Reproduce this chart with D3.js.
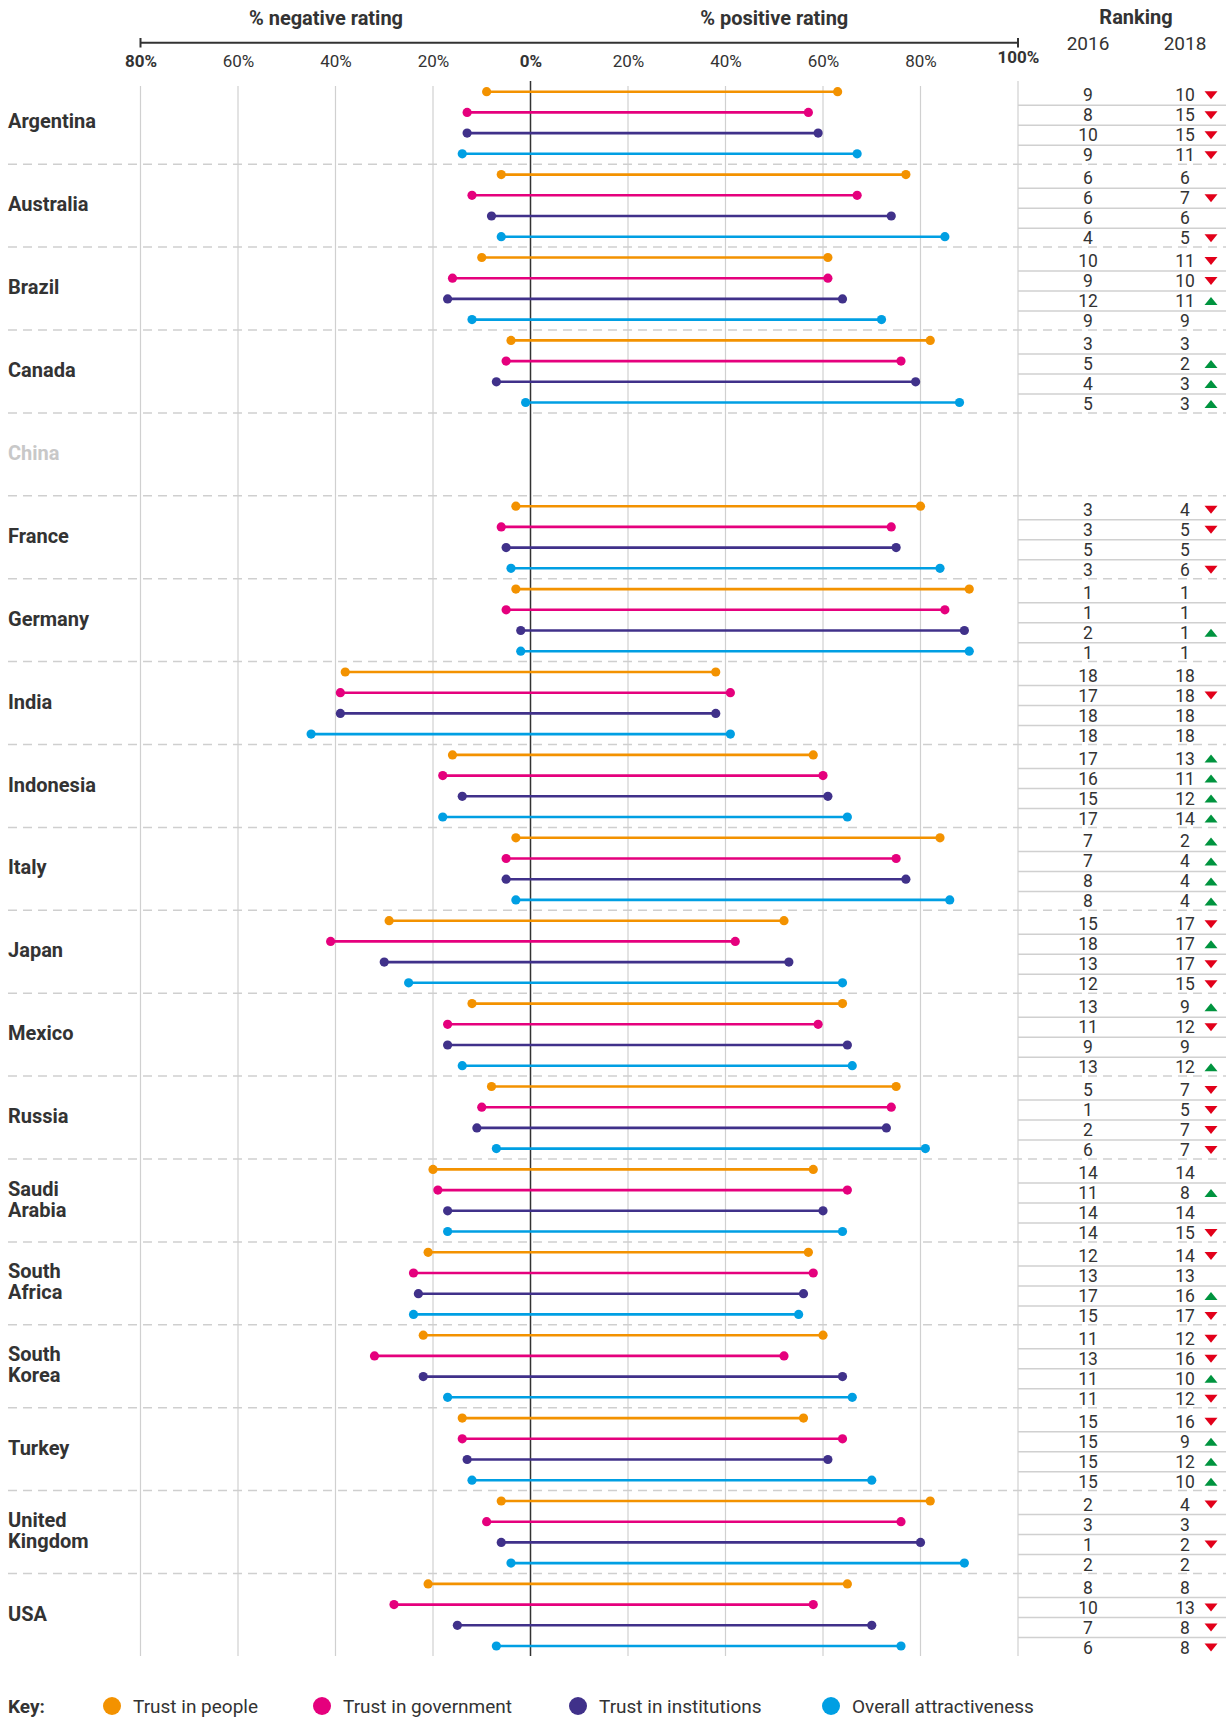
<!DOCTYPE html>
<html>
<head>
<meta charset="utf-8">
<script src="https://cdn.jsdelivr.net/npm/d3@7"></script>
<style>
body{margin:0;background:#fff;}
svg text{font-family:Roboto, "Liberation Sans", sans-serif;fill:#333;}
</style>
</head>
<body>
<svg id="chart" width="1229" height="1717"></svg>
<script>
// countries, top to bottom (China has no data)
const countries = ["Argentina","Australia","Brazil","Canada","China","France","Germany","India","Indonesia","Italy","Japan","Mexico","Russia","Saudi Arabia","South Africa","South Korea","Turkey","United Kingdom","USA"];
const seriesNames = ["Trust in people","Trust in government","Trust in institutions","Overall attractiveness"];
const seriesColors = ["#f39200","#e5007d","#40318a","#009fe3"];

// % negative / % positive rating
const negPeople = [9,6,10,4,null,3,3,38,16,3,29,12,8,20,21,22,14,6,21];
const posPeople = [63,77,61,82,null,80,90,38,58,84,52,64,75,58,57,60,56,82,65];
const negGov = [13,12,16,5,null,6,5,39,18,5,41,17,10,19,24,32,14,9,28];
const posGov = [57,67,61,76,null,74,85,41,60,75,42,59,74,65,58,52,64,76,58];
const negInst = [13,8,17,7,null,5,2,39,14,5,30,17,11,17,23,22,13,6,15];
const posInst = [59,74,64,79,null,75,89,38,61,77,53,65,73,60,56,64,61,80,70];
const negOverall = [14,6,12,1,null,4,2,45,18,3,25,14,7,17,24,17,12,4,7];
const posOverall = [67,85,72,88,null,84,90,41,65,86,64,66,81,64,55,66,70,89,76];

// ranking 2016 / 2018
const rankPeople16 = [9,6,10,3,null,3,1,18,17,7,15,13,5,14,12,11,15,2,8];
const rankPeople18 = [10,6,11,3,null,4,1,18,13,2,17,9,7,14,14,12,16,4,8];
const rankGov16 = [8,6,9,5,null,3,1,17,16,7,18,11,1,11,13,13,15,3,10];
const rankGov18 = [15,7,10,2,null,5,1,18,11,4,17,12,5,8,13,16,9,3,13];
const rankInst16 = [10,6,12,4,null,5,2,18,15,8,13,9,2,14,17,11,15,1,7];
const rankInst18 = [15,6,11,3,null,5,1,18,12,4,17,9,7,14,16,10,12,2,8];
const rankOverall16 = [9,4,9,5,null,3,1,18,17,8,12,13,6,14,15,11,15,2,6];
const rankOverall18 = [11,5,9,3,null,6,1,18,14,4,15,12,7,15,17,12,10,2,8];

const tickValues = [-80,-60,-40,-20,0,20,40,60,80,100];

const negs = [negPeople,negGov,negInst,negOverall];
const poss = [posPeople,posGov,posInst,posOverall];
const r16s = [rankPeople16,rankGov16,rankInst16,rankOverall16];
const r18s = [rankPeople18,rankGov18,rankInst18,rankOverall18];

let rows = [];
countries.forEach((c,i)=>{
    seriesNames.forEach((s,j)=>{
        if(negs[j][i]==null) return;
        rows.push({country:c,series:s,color:seriesColors[j],neg:negs[j][i],pos:poss[j][i],r16:r16s[j][i],r18:r18s[j][i]});
    });
});

const svg = d3.select("#chart");
const x = d3.scaleLinear().domain([-80,100]).range([140.5,1018]);
const yGroup = d3.scaleBand().domain(countries).range([81.3,81.3+19*82.9]);
const yRow = d3.scalePoint().domain(seriesNames).range([10.4,72.5]);
const yRank = d3.scalePoint().domain(seriesNames).range([14,74]);
const gridTop = 86, gridBottom = 1656;

// gridlines
svg.append("g").selectAll("line")
    .data(tickValues.filter(d=>d!==0))
    .enter().append("line")
    .attr("x1",d=>x(d)).attr("x2",d=>x(d))
    .attr("y1",d=>d===100?81:gridTop).attr("y2",gridBottom)
    .attr("stroke","#d0d0d0").attr("stroke-width",1.2);

// dashed group separators
svg.append("g").selectAll("line")
    .data(countries.slice(1))
    .enter().append("line")
    .attr("x1",8).attr("x2",1226)
    .attr("y1",d=>yGroup(d)).attr("y2",d=>yGroup(d))
    .attr("stroke","#cfcfcf").attr("stroke-width",1.5)
    .attr("stroke-dasharray","9,6");

// ranking table row lines
svg.append("g").selectAll("line")
    .data(rows.filter(d=>d.series!==seriesNames[3]))
    .enter().append("line")
    .attr("x1",x(100)).attr("x2",1226)
    .attr("y1",d=>yGroup(d.country)+yRank(d.series)+10)
    .attr("y2",d=>yGroup(d.country)+yRank(d.series)+10)
    .attr("stroke","#d0d0d0").attr("stroke-width",1.5);

// zero line
svg.append("line")
    .attr("x1",x(0)).attr("x2",x(0))
    .attr("y1",81).attr("y2",gridBottom)
    .attr("stroke","#333").attr("stroke-width",1.5);

// top axis
const axis = svg.append("g")
    .attr("transform","translate(0,42.7)")
    .call(d3.axisBottom(x).tickValues(tickValues).tickFormat(d=>Math.abs(d)+"%").tickSize(0).tickPadding(13));
axis.select(".domain").remove();
axis.selectAll("text")
    .style("font-size","17px")
    .style("font-family","Roboto")
    .style("font-weight",d=>(d===-80||d===0||d===100)?"bold":"normal")
    .attr("fill",d=>(d===-80||d===0||d===100)?"#222":"#444")
    .attr("y",d=>d===100?8:12);
svg.append("line").attr("x1",x(-80)).attr("x2",x(100)).attr("y1",42.7).attr("y2",42.7)
    .attr("stroke","#333").attr("stroke-width",2);
svg.selectAll(".endtick").data([-80,100]).enter().append("line")
    .attr("x1",d=>x(d)).attr("x2",d=>x(d)).attr("y1",38).attr("y2",47.5)
    .attr("stroke","#333").attr("stroke-width",2);

svg.append("text").attr("x",326).attr("y",18).attr("text-anchor","middle").attr("dominant-baseline","central")
    .style("font-size","20px").style("font-weight","bold").text("% negative rating");
svg.append("text").attr("x",x(50)).attr("y",18).attr("text-anchor","middle").attr("dominant-baseline","central")
    .style("font-size","20px").style("font-weight","bold").text("% positive rating");
svg.append("text").attr("x",1136).attr("y",17).attr("text-anchor","middle").attr("dominant-baseline","central")
    .style("font-size","20px").style("font-weight","bold").text("Ranking");
svg.selectAll(".yr").data([["2016",1088],["2018",1185]]).enter().append("text")
    .attr("x",d=>d[1]).attr("y",43).attr("text-anchor","middle").attr("dominant-baseline","central")
    .style("font-size","19px").text(d=>d[0]);

// country labels
svg.append("g").selectAll("text")
    .data(countries)
    .enter().append("text")
    .attr("x",8)
    .attr("y",d=>yGroup(d)+40)
    .style("font-size","20px").style("font-weight","bold")
    .style("fill",d=>d==="China"?"#c8c8c8":"#333")
    .each(function(d){
        let parts = d.split(" ");
        let t = d3.select(this);
        parts.forEach((p,k)=>{
            t.append("tspan").attr("x",8)
             .attr("y",yGroup(d)+40+(k-(parts.length-1)/2)*21)
             .attr("dominant-baseline","central")
             .text(p);
        });
    });

// dumbbells
let bells = svg.append("g").selectAll("g")
    .data(rows).enter().append("g")
    .attr("transform",d=>"translate(0,"+(yGroup(d.country)+yRow(d.series))+")");
bells.append("line")
    .attr("x1",d=>x(-d.neg)).attr("x2",d=>x(d.pos))
    .attr("stroke",d=>d.color).attr("stroke-width",2.6);
bells.selectAll("circle")
    .data(d=>[{v:-d.neg,c:d.color},{v:d.pos,c:d.color}])
    .enter().append("circle")
    .attr("cx",d=>x(d.v)).attr("r",4.6).attr("fill",d=>d.c);

// ranking numbers
let ranks = svg.append("g").selectAll("g")
    .data(rows).enter().append("g")
    .attr("transform",d=>"translate(0,"+(yGroup(d.country)+yRank(d.series))+")");
ranks.append("text").attr("x",1088).attr("text-anchor","middle").attr("dominant-baseline","central")
    .style("font-size","17.5px").text(d=>d.r16);
ranks.append("text").attr("x",1185).attr("text-anchor","middle").attr("dominant-baseline","central")
    .style("font-size","17.5px").text(d=>d.r18);
ranks.filter(d=>d.r16!==d.r18).append("path")
    .attr("d",d=>d.r18<d.r16?"M-6.5,4L6.5,4L0,-4Z":"M-6.5,-4L6.5,-4L0,4Z")
    .attr("transform","translate(1211,0)")
    .attr("fill",d=>d.r18<d.r16?"#00943f":"#e2001a");

// key
let key = svg.append("g").attr("transform","translate(0,1706)");
key.append("text").attr("x",8).attr("dominant-baseline","central")
    .style("font-size","19px").style("font-weight","bold").text("Key:");
let keyX = [112,322,578,831];
let items = key.selectAll(".item").data(seriesNames).enter().append("g")
    .attr("transform",(d,i)=>"translate("+keyX[i]+",0)");
items.append("circle").attr("r",9).attr("fill",(d,i)=>seriesColors[i]);
items.append("text").attr("x",21).attr("dominant-baseline","central")
    .style("font-size","19px").text(d=>d);
</script>
</body>
</html>
